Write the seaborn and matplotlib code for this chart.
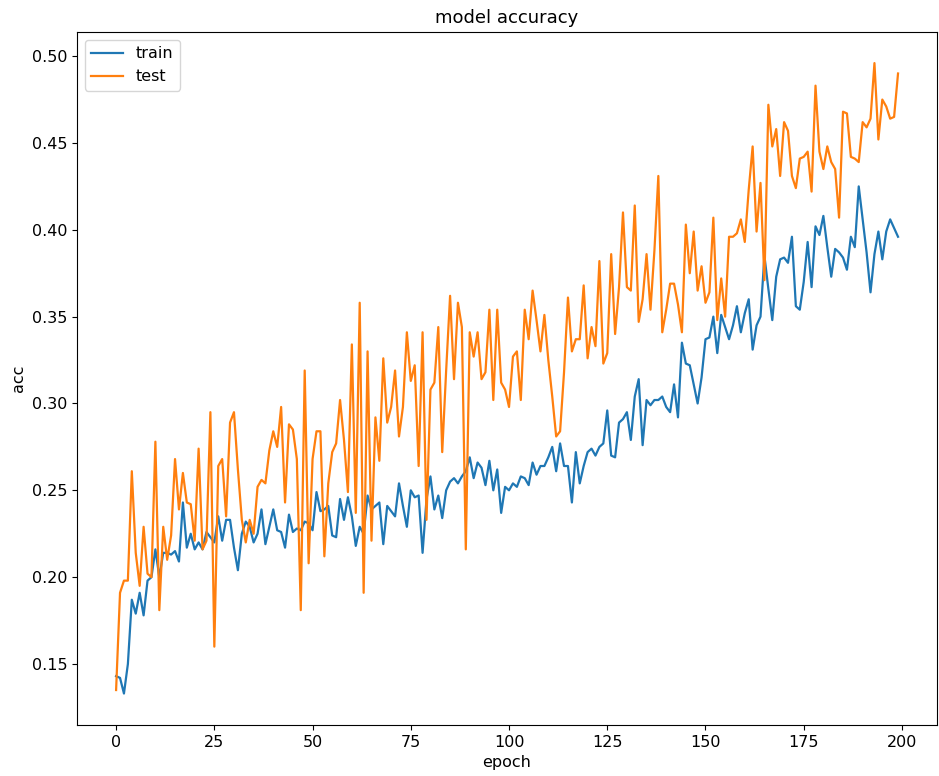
import numpy as np
import pandas as pd
import seaborn as sns
import matplotlib
matplotlib.use("Agg")
import matplotlib.pyplot as plt

# Valores (acurácia por época)
train_acc = [
    0.143, 0.142, 0.133, 0.150, 0.187, 0.179, 0.191, 0.178, 0.198, 0.200,
    0.216, 0.200, 0.214, 0.214, 0.213, 0.215, 0.209, 0.243, 0.217, 0.225,
    0.216, 0.220, 0.216, 0.226, 0.223, 0.220, 0.235, 0.221, 0.233, 0.233,
    0.217, 0.204, 0.225, 0.232, 0.229, 0.220, 0.225, 0.239, 0.219, 0.229,
    0.239, 0.227, 0.226, 0.217, 0.236, 0.226, 0.228, 0.227, 0.232, 0.231,
    0.227, 0.249, 0.238, 0.239, 0.241, 0.224, 0.223, 0.245, 0.233, 0.246,
    0.235, 0.218, 0.229, 0.225, 0.247, 0.239, 0.241, 0.243, 0.219, 0.241,
    0.238, 0.235, 0.254, 0.241, 0.229, 0.250, 0.246, 0.247, 0.214, 0.245,
    0.258, 0.239, 0.247, 0.234, 0.250, 0.255, 0.257, 0.254, 0.258, 0.261,
    0.269, 0.257, 0.266, 0.263, 0.253, 0.267, 0.250, 0.262, 0.237, 0.252,
    0.250, 0.254, 0.252, 0.258, 0.257, 0.253, 0.266, 0.259, 0.264, 0.264,
    0.269, 0.275, 0.261, 0.277, 0.264, 0.264, 0.243, 0.272, 0.254, 0.264,
    0.272, 0.274, 0.270, 0.275, 0.277, 0.296, 0.270, 0.269, 0.289, 0.291,
    0.295, 0.279, 0.304, 0.314, 0.276, 0.302, 0.299, 0.302, 0.302, 0.304,
    0.298, 0.295, 0.311, 0.292, 0.335, 0.323, 0.322, 0.311, 0.300, 0.315,
    0.337, 0.338, 0.350, 0.329, 0.351, 0.344, 0.337, 0.345, 0.356, 0.341,
    0.352, 0.360, 0.331, 0.345, 0.350, 0.385, 0.366, 0.348, 0.373, 0.383,
    0.384, 0.381, 0.396, 0.356, 0.354, 0.370, 0.393, 0.367, 0.402, 0.397,
    0.408, 0.390, 0.373, 0.389, 0.387, 0.384, 0.377, 0.396, 0.390, 0.425,
    0.406, 0.387, 0.364, 0.386, 0.399, 0.383, 0.399, 0.406, 0.401, 0.396,
]

test_acc = [
    0.135, 0.191, 0.198, 0.198, 0.261, 0.214, 0.195, 0.229, 0.202, 0.200,
    0.278, 0.181, 0.229, 0.210, 0.224, 0.268, 0.239, 0.260, 0.243, 0.242,
    0.221, 0.274, 0.216, 0.221, 0.295, 0.160, 0.264, 0.268, 0.235, 0.289,
    0.295, 0.262, 0.233, 0.220, 0.233, 0.225, 0.252, 0.256, 0.254, 0.273,
    0.284, 0.275, 0.298, 0.243, 0.288, 0.285, 0.268, 0.181, 0.319, 0.208,
    0.268, 0.284, 0.284, 0.212, 0.254, 0.272, 0.277, 0.302, 0.279, 0.249,
    0.334, 0.237, 0.358, 0.191, 0.330, 0.221, 0.292, 0.267, 0.326, 0.289,
    0.298, 0.319, 0.281, 0.298, 0.341, 0.313, 0.322, 0.264, 0.341, 0.233,
    0.308, 0.312, 0.344, 0.272, 0.319, 0.362, 0.314, 0.358, 0.344, 0.216,
    0.341, 0.327, 0.341, 0.314, 0.318, 0.354, 0.302, 0.354, 0.312, 0.308,
    0.298, 0.327, 0.330, 0.302, 0.354, 0.337, 0.365, 0.348, 0.330, 0.351,
    0.325, 0.304, 0.281, 0.284, 0.318, 0.361, 0.330, 0.337, 0.337, 0.368,
    0.326, 0.344, 0.333, 0.382, 0.323, 0.329, 0.386, 0.340, 0.367, 0.410,
    0.367, 0.365, 0.414, 0.347, 0.360, 0.386, 0.354, 0.388, 0.431, 0.341,
    0.354, 0.369, 0.369, 0.357, 0.341, 0.403, 0.375, 0.399, 0.365, 0.379,
    0.358, 0.364, 0.407, 0.348, 0.372, 0.350, 0.396, 0.396, 0.398, 0.406,
    0.393, 0.423, 0.448, 0.399, 0.427, 0.371, 0.472, 0.448, 0.458, 0.431,
    0.462, 0.457, 0.431, 0.424, 0.441, 0.442, 0.445, 0.422, 0.483, 0.445,
    0.435, 0.448, 0.439, 0.435, 0.407, 0.468, 0.467, 0.442, 0.441, 0.439,
    0.462, 0.459, 0.464, 0.496, 0.452, 0.475, 0.471, 0.464, 0.465, 0.490,
]

epochs = np.arange(len(train_acc))

df = pd.DataFrame({'epoch': epochs, 'train': train_acc, 'test': test_acc})
df_long = df.melt(id_vars='epoch', var_name='serie', value_name='acc')

plt.rcParams['font.size'] = 11.5

fig = plt.figure(figsize=(9.39, 7.76), dpi=100)
ax = fig.add_axes([0.082, 0.066, 0.916, 0.893])

sns.lineplot(data=df_long, x='epoch', y='acc', hue='serie',
             palette=['#1f77b4', '#ff7f0e'], linewidth=1.6, ax=ax)

ax.set_title("model accuracy", fontsize=13)
ax.set_xlabel("epoch")
ax.set_ylabel("acc")
ax.set_xticks([0, 25, 50, 75, 100, 125, 150, 175, 200])
ax.set_yticks([0.15, 0.20, 0.25, 0.30, 0.35, 0.40, 0.45, 0.50])
ax.set_ylim(0.115, 0.514)
ax.legend(title=None, loc='upper left')

fig.savefig("out.png", dpi=100)
